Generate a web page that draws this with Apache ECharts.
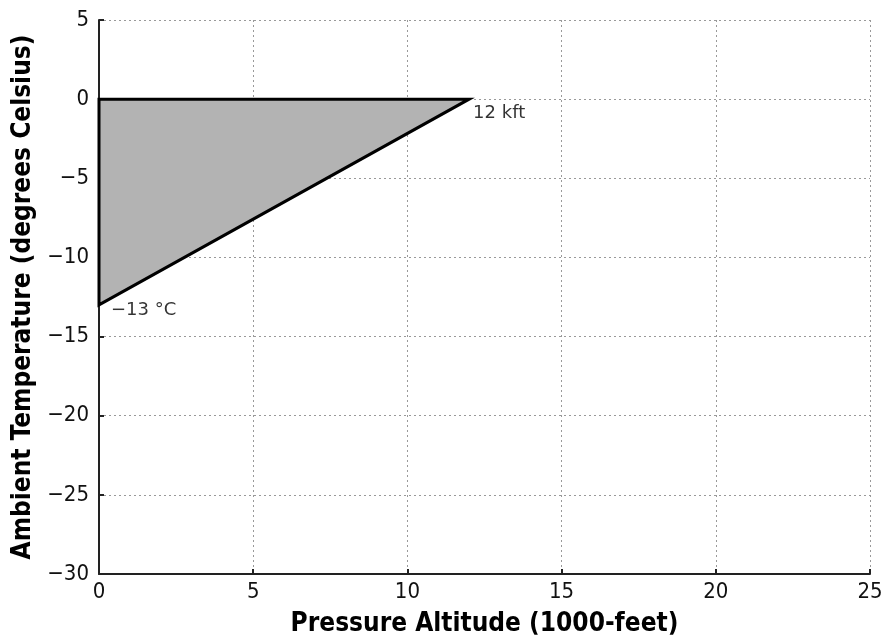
<!DOCTYPE html>
<html>
<head>
<meta charset="utf-8">
<script src="https://cdn.jsdelivr.net/npm/echarts@6/dist/echarts.min.js"></script>
<style>
  html, body { margin: 0; padding: 0; background: #fff; }
  #chart { width: 889px; height: 643px; }
</style>
</head>
<body>
<div id="chart"></div>
<script>
// Envelope vertices: pressure altitude (kft) and ambient temperature (°C)
const altitudeKft = [0, 12, 0];
const temperatureC = [0, 0, -13];

// Annotated corner points
const labelAltitude = [12, 0];
const labelTemperature = [0, -13];
const labelTexts = ['12 kft', '\u221213 \u00B0C'];

const xTicks = [0, 5, 10, 15, 20, 25];
const yTicks = [5, 0, -5, -10, -15, -20, -25, -30];

const FONT = '"DejaVu Sans Condensed", "DejaVu Sans", Verdana, sans-serif';
const LABEL_FONT = '"DejaVu Sans", Verdana, sans-serif';
const minus = v => String(v).replace('-', '\u2212');

const polygonData = altitudeKft.map((x, i) => [x, temperatureC[i]]);

const axisCommon = {
  axisLine: { onZero: false, lineStyle: { color: '#222', width: 2 } },
  axisTick: { inside: true, length: 5, lineStyle: { color: '#222', width: 2 } },
  splitLine: { show: true, lineStyle: { type: [2, 3], color: '#999', width: 1 } }
};

const chart = echarts.init(document.getElementById('chart'));
chart.setOption({
  animation: false,
  grid: { left: 99, right: 19, top: 20, bottom: 69 },
  xAxis: Object.assign({
    type: 'value',
    min: xTicks[0], max: xTicks[xTicks.length - 1], interval: 5,
    name: 'Pressure Altitude (1000-feet)',
    nameLocation: 'middle', nameGap: 37,
    nameTextStyle: { fontFamily: FONT, fontWeight: 'bold', fontSize: 26, color: '#000' },
    axisLabel: { fontFamily: FONT, fontSize: 22, color: '#111', margin: 7 }
  }, axisCommon),
  yAxis: Object.assign({
    type: 'value',
    min: yTicks[yTicks.length - 1], max: yTicks[0], interval: 5,
    name: 'Ambient Temperature (degrees Celsius)',
    nameLocation: 'middle', nameGap: 58, nameRotate: 90,
    nameTextStyle: { fontFamily: FONT, fontWeight: 'bold', fontSize: 26, color: '#000' },
    axisLabel: { fontFamily: FONT, fontSize: 22, color: '#111', margin: 10, formatter: minus }
  }, axisCommon),
  series: [
    {
      type: 'custom',
      data: [0],
      renderItem: function (params, api) {
        const pts = polygonData.map(p => api.coord(p));
        return {
          type: 'polygon',
          shape: { points: pts },
          style: { fill: '#b3b3b3', stroke: '#000', lineWidth: 3, lineJoin: 'miter' }
        };
      },
      z: 3
    },
    {
      type: 'scatter',
      symbolSize: 0,
      data: [
        { value: labelAltitude, label: { show: true, position: 'right', offset: [-1, 14], formatter: labelTexts[0] } },
        { value: labelTemperature, label: { show: true, position: 'right', offset: [7, 5], formatter: labelTexts[1] } }
      ],
      label: { fontFamily: LABEL_FONT, fontSize: 18, color: '#000' },
      z: 4
    }
  ]
});
</script>
</body>
</html>
